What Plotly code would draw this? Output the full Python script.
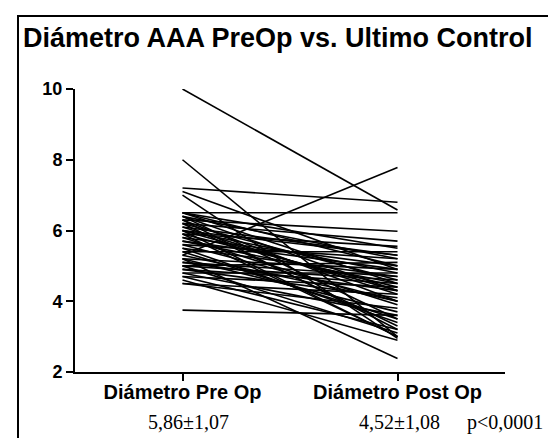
import plotly.graph_objects as go

categories = ["Diámetro Pre Op", "Diámetro Post Op"]
pre_op = [10.0, 8.0, 7.2, 7.1, 7.0, 6.5, 5.3, 6.5, 6.4, 6.4, 6.3, 6.3, 6.2, 6.2, 6.1,
          6.0, 6.0, 6.0, 5.9, 5.9, 5.8, 5.8, 5.7, 5.6, 5.5, 5.5, 5.4, 5.3, 5.2, 5.2,
          5.1, 5.0, 5.0, 5.0, 4.9, 4.8, 4.8, 4.7, 4.6, 4.5, 4.5, 5.2, 3.75, 6.1, 5.6,
          6.5, 6.4, 6.3, 6.2, 6.0, 5.9, 5.7, 5.4, 5.1, 4.9, 4.7, 6.5]
post_op = [6.58, 3.0, 6.8, 4.9, 2.95, 6.5, 7.78, 5.0, 3.5, 4.3, 5.98, 3.2, 4.6, 5.7, 4.2,
           5.3, 3.0, 4.8, 4.4, 5.55, 3.9, 5.0, 4.5, 5.2, 3.4, 4.7, 5.4, 4.0, 4.9, 3.7,
           4.3, 5.1, 4.6, 3.1, 4.1, 4.8, 3.6, 4.4, 2.9, 4.2, 3.8, 2.38, 3.6, 5.3, 4.0,
           4.5, 5.2, 4.0, 3.3, 4.3, 3.0, 4.9, 3.5, 4.7, 4.5, 3.2, 5.5]
stats_text = ["5,86±1,07", "4,52±1,08", "p<0,0001"]
title_text = "Diámetro AAA PreOp vs. Ultimo Control"
y_ticks = [2, 4, 6, 8, 10]

xs, ys = [], []
for a, b in zip(pre_op, post_op):
    xs += [categories[0], categories[1], None]
    ys += [a, b, None]

fig = go.Figure()
fig.add_trace(go.Scatter(x=xs, y=ys, mode="lines",
                         line=dict(color="black", width=1.6),
                         connectgaps=False, showlegend=False, hoverinfo="skip"))

W, H = 556, 438
ml, mr, mt, mb = 67, 59, 81, 74
pw, ph = W - ml - mr, H - mt - mb

def px_x(p):
    return (p - ml) / pw

def px_y(p):
    return (H - mb - p) / ph

fig.update_layout(
    width=W, height=H,
    margin=dict(l=ml, r=mr, t=mt, b=mb),
    paper_bgcolor="white", plot_bgcolor="white",
    font=dict(family="Liberation Sans, Arial, sans-serif", color="black"),
    xaxis=dict(type="category", categoryorder="array", categoryarray=categories,
               range=[-0.5, 1.5], showline=True, linecolor="black", linewidth=2,
               ticks="outside", ticklen=7, tickwidth=2, tickcolor="black",
               ticklabelstandoff=-6,
               showgrid=False, zeroline=False,
               tickfont=dict(size=20, weight="bold", color="black")),
    yaxis=dict(range=[2, 10], tickvals=y_ticks, showline=True, linecolor="black",
               linewidth=2, ticks="outside", ticklen=7, tickwidth=2,
               tickcolor="black", showgrid=False, zeroline=False,
               tickfont=dict(size=18, weight="bold", color="black")),
    shapes=[dict(type="rect", xref="paper", yref="paper",
                 x0=px_x(10), x1=px_x(546), y0=px_y(437), y1=px_y(8),
                 line=dict(color="black", width=2))],
)

fig.add_annotation(text=title_text, xref="paper", yref="paper",
                   x=px_x(13), y=px_y(30), xanchor="left", yanchor="middle",
                   showarrow=False, font=dict(size=27, weight="bold", color="black"))

stat_x = [180, 391, 497]
for t, xp in zip(stats_text, stat_x):
    fig.add_annotation(text=t, xref="paper", yref="paper",
                       x=px_x(xp), y=px_y(414), xanchor="center", yanchor="middle",
                       showarrow=False,
                       font=dict(size=20, family="Liberation Serif, Times New Roman, serif",
                                 color="black"))

fig.write_html("out.html")
